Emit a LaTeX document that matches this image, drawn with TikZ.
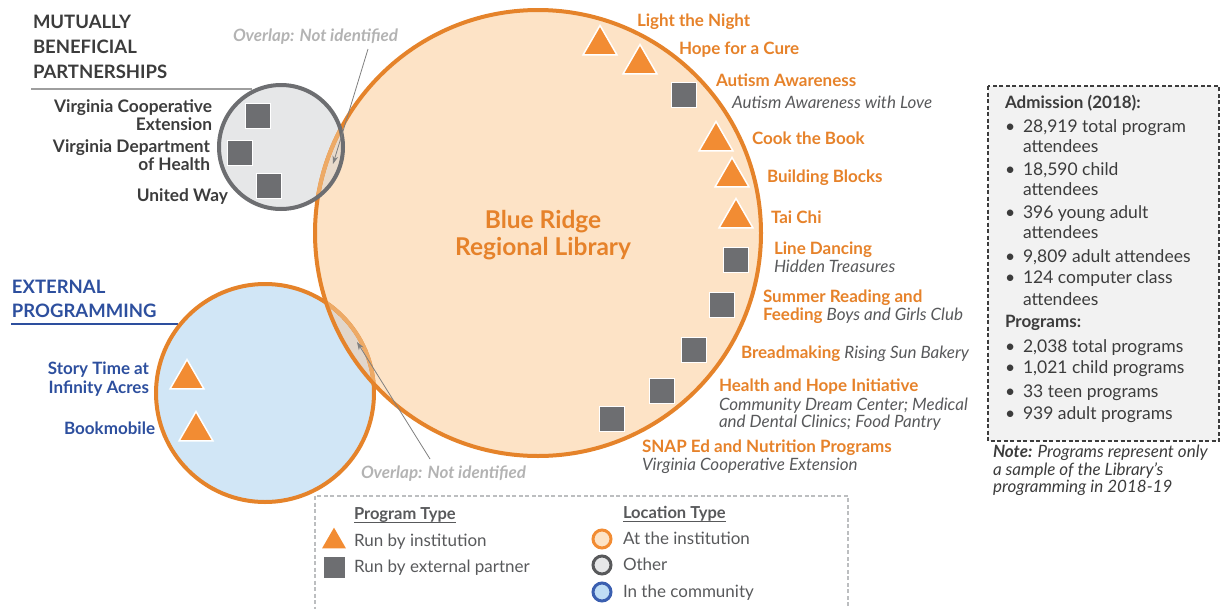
\documentclass[tikz,border=0pt]{standalone}
\usepackage{fontspec}
\setmainfont{Lato}
\usetikzlibrary{shapes.geometric,arrows.meta}
\definecolor{orgtxt}{HTML}{E6822A}
\definecolor{orgtri}{HTML}{F28C33}
\definecolor{orgline}{HTML}{E5832A}
\definecolor{lightorg}{HTML}{EDAA66}
\definecolor{peach}{HTML}{FDE3C6}
\definecolor{bluefill}{HTML}{D1E6F6}
\definecolor{greyfill}{HTML}{E6E7E8}
\definecolor{greyline}{HTML}{6D6E71}
\definecolor{sqfill}{HTML}{6D6E71}
\definecolor{ittxt}{HTML}{58595B}
\definecolor{darktxt}{HTML}{3C3C3C}
\definecolor{bluetxt}{HTML}{2D4F9E}
\definecolor{ovtxt}{HTML}{B3B3B3}
\definecolor{tanA}{HTML}{E8DACB}
\definecolor{tanB}{HTML}{E1D6CB}
\definecolor{statfill}{HTML}{F2F2F2}
\definecolor{legline}{HTML}{BCBEC0}
\definecolor{arrgrey}{HTML}{7F7F7F}
\definecolor{legblue}{HTML}{3A5FB0}
\definecolor{legbluefill}{HTML}{BFDDF5}
\begin{document}
\begin{tikzpicture}[x=1pt,y=-1pt,
  every node/.style={inner sep=0pt,outer sep=0pt},
  ttl/.style={font=\fontsize{18.5}{21}\selectfont\bfseries,anchor=base west},
  gl/.style={font=\fontsize{17.3}{19}\selectfont\bfseries,text=darktxt,anchor=base east},
  bl/.style={font=\fontsize{17}{19}\selectfont\bfseries,text=bluetxt,anchor=base east},
  ovl/.style={font=\fontsize{17}{19}\selectfont\bfseries\itshape,text=ovtxt,anchor=base west},
  pl/.style={font=\fontsize{17}{19}\selectfont\bfseries,text=orgtxt,anchor=base west},
  ps/.style={font=\fontsize{17}{19}\selectfont\itshape,text=ittxt,anchor=base west},
  st/.style={font=\fontsize{17.5}{19}\selectfont,text=darktxt,anchor=base west},
  lg/.style={font=\fontsize{17}{19}\selectfont,text=ittxt,anchor=base west},
  tri/.style={regular polygon,regular polygon sides=3,minimum size=39pt,fill=orgtri,draw=white,line width=1.5pt},
  sq/.style={rectangle,minimum size=25pt,fill=sqfill,draw=white,line width=1.5pt},
  arr/.style={draw=arrgrey,line width=0.8pt,-{Stealth[length=8pt,width=5.5pt]}},
  rule/.style={line width=1.5pt}
]
\useasboundingbox (0,0) rectangle (1220,608);
\coordinate (cB) at (538,233);
\coordinate (cG) at (281,147);
\coordinate (cE) at (265,393);

% section rules
\coordinate (r1a) at (31,89);
\coordinate (r1b) at (252,89);
\draw[rule,draw=black!38] (r1a) -- (r1b);
\coordinate (r2a) at (11,324);
\coordinate (r2b) at (178,324);
\draw[rule,draw=bluetxt] (r2a) -- (r2b);

% circle fills
\fill[peach] (cB) circle[radius=223pt];
\fill[bluefill] (cE) circle[radius=109pt];
\fill[greyfill] (cG) circle[radius=62pt];
\begin{scope}
  \clip (cB) circle[radius=223pt];
  \fill[tanB] (cE) circle[radius=109pt];
  \fill[tanA] (cG) circle[radius=62pt];
\end{scope}
% circle borders
\draw[orgline,line width=4pt] (cE) circle[radius=109pt];
\draw[orgline,line width=4pt] (cB) circle[radius=223pt];
\begin{scope}
  \clip (cB) circle[radius=221pt];
  \draw[lightorg,line width=4pt] (cE) circle[radius=109pt];
\end{scope}
\begin{scope}
  \clip (cG) circle[radius=60pt];
  \draw[lightorg,line width=4pt] (cB) circle[radius=223pt];
\end{scope}
\draw[greyline,line width=4pt] (cG) circle[radius=62pt];

% titles
\node[ttl,text=darktxt] (t1) at (33,28.5) {MUTUALLY};
\node[ttl,text=darktxt] (t2) at (33,53.5) {BENEFICIAL};
\node[ttl,text=darktxt] (t3) at (33,78.5) {PARTNERSHIPS};
\node[ttl,text=bluetxt] (e1) at (12,293.5) {EXTERNAL};
\node[ttl,text=bluetxt] (e2) at (12,317) {PROGRAMMING};

% partnership circle
\node[sq] (g1) at (258,116) {};
\node[sq] (g2) at (240,153) {};
\node[sq] (g3) at (269,186) {};
\node[gl] (gl1) at (212,112) {Virginia Cooperative};
\node[gl] (gl2) at (212,130) {Extension};
\node[gl] (gl3) at (210,152) {Virginia Department};
\node[gl] (gl4) at (210,170) {of Health};
\node[gl] (gl5) at (228,201) {United Way};

% external circle
\node[tri] (x1) at (187,379) {};
\node[tri] (x2) at (196,431) {};
\node[bl] (xl1) at (149,374) {Story Time at};
\node[bl] (xl2) at (149,393) {Infinity Acres};
\node[bl] (xl3) at (155,434) {Bookmobile};

% overlap notes
\node[ovl] (ov1) at (233,41) {Overlap: Not identified};
\node[ovl] (ov2) at (361,478) {Overlap: Not identified};
\coordinate (a1s) at (368,49);
\coordinate (a1e) at (333,164);
\draw[arr] (a1s) -- (a1e);
\coordinate (a2s) at (430,459);
\coordinate (a2e) at (357,342);
\draw[arr] (a2s) -- (a2e);

% library title
\node[font=\fontsize{24.5}{27}\selectfont\bfseries,text=orgtxt,anchor=base] (lib1) at (543,228) {Blue Ridge};
\node[font=\fontsize{24.5}{27}\selectfont\bfseries,text=orgtxt,anchor=base] (lib2) at (543,255) {Regional Library};

% programs
\node[tri] (p1) at (600,45) {};
\node[tri] (p2) at (640,64) {};
\node[sq]  (p3) at (684,95) {};
\node[tri] (p4) at (716,141) {};
\node[tri] (p5) at (732,177) {};
\node[tri] (p6) at (736,218) {};
\node[sq]  (p7) at (736,260) {};
\node[sq]  (p8) at (722,305) {};
\node[sq]  (p9) at (694,350) {};
\node[sq]  (p10) at (662,391) {};
\node[sq]  (p11) at (612,419) {};

\node[pl] (l1) at (637,26) {Light the Night};
\node[pl] (l2) at (679,54) {Hope for a Cure};
\node[pl] (l3) at (716,86) {Autism Awareness};
\node[ps] (l3b) at (732,108) {Autism Awareness with Love};
\node[pl] (l4) at (752,144) {Cook the Book};
\node[pl] (l5) at (767,182) {Building Blocks};
\node[pl] (l6) at (771,223) {Tai Chi};
\node[pl] (l7) at (774,254) {Line Dancing};
\node[ps] (l7b) at (774,272) {Hidden Treasures};
\node[pl] (l8) at (763,302.5) {Summer Reading and};
\node[pl] (l8b) at (763,320.5) {Feeding {\mdseries\itshape\color{ittxt}\fontsize{17}{19}\selectfont Boys and Girls Club}};
\node[pl] (l9) at (741,358) {Breadmaking {\mdseries\itshape\color{ittxt}\fontsize{17}{19}\selectfont Rising Sun Bakery}};
\node[pl] (l10) at (719,391) {Health and Hope Initiative};
\node[ps] (l10b) at (719,410) {Community Dream Center; Medical};
\node[ps] (l10c) at (719,427.5) {and Dental Clinics; Food Pantry};
\node[pl] (l11) at (642,452) {SNAP Ed and Nutrition Programs};
\node[ps] (l11b) at (642,470) {Virginia Cooperative Extension};

% stats box
\draw[fill=statfill,draw=darktxt,line width=1.2pt,dash pattern=on 4pt off 2.5pt] (988,86) rectangle (1219,441);
\node[st,font=\fontsize{17}{19}\selectfont\bfseries] (s0) at (1005,108) {Admission (2018):};
\node[st] (s1) at (1005,132) {\makebox[18pt][l]{•}28,919 total program};
\node[st] (s1b) at (1023,152) {attendees};
\node[st] (s2) at (1005,175) {\makebox[18pt][l]{•}18,590 child};
\node[st] (s2b) at (1023,195) {attendees};
\node[st] (s3) at (1005,218) {\makebox[18pt][l]{•}396 young adult};
\node[st] (s3b) at (1023,238) {attendees};
\node[st] (s4) at (1005,262) {\makebox[18pt][l]{•}9,809 adult attendees};
\node[st] (s5) at (1005,283) {\makebox[18pt][l]{•}124 computer class};
\node[st] (s5b) at (1023,305) {attendees};
\node[st,font=\fontsize{17}{19}\selectfont\bfseries] (s6) at (1005,327) {Programs:};
\node[st] (s7) at (1005,352) {\makebox[18pt][l]{•}2,038 total programs};
\node[st] (s8) at (1005,373) {\makebox[18pt][l]{•}1,021 child programs};
\node[st] (s9) at (1005,397) {\makebox[18pt][l]{•}33 teen programs};
\node[st] (s10) at (1005,419) {\makebox[18pt][l]{•}939 adult programs};
\node[st,font=\fontsize{17}{19}\selectfont\itshape] (n1) at (993,457) {\textbf{Note:} Programs represent only};
\node[st,font=\fontsize{17}{19}\selectfont\itshape] (n2) at (993,475) {a sample of the Library's};
\node[st,font=\fontsize{17}{19}\selectfont\itshape] (n3) at (993,492) {programming in 2018-19};

% legend
\draw[draw=legline,line width=1.2pt,dash pattern=on 4pt off 2.5pt] (315,496) rectangle (848,616);
\node[lg,font=\fontsize{16.5}{18}\selectfont\bfseries] (h1) at (354,519) {Program Type};
\draw[ittxt,line width=1pt] ([yshift=-3pt]h1.base west) -- ([yshift=-3pt]h1.base east);
\node[lg,font=\fontsize{16.5}{18}\selectfont\bfseries] (h2) at (623,518) {Location Type};
\draw[ittxt,line width=1pt] ([yshift=-3pt]h2.base west) -- ([yshift=-3pt]h2.base east);
\node[regular polygon,regular polygon sides=3,minimum size=27.7pt,fill=orgtri] (k1) at (334,541.5) {};
\node[rectangle,minimum size=21pt,fill=sqfill] (k2) at (334.5,567) {};
\node[lg] (k1t) at (354,546) {Run by institution};
\node[lg] (k2t) at (354,572) {Run by external partner};
\node[circle,minimum size=18pt,fill=peach,draw=orgtri,line width=3pt] (c1) at (602,539) {};
\node[circle,minimum size=18pt,fill=greyfill,draw=ittxt,line width=3pt] (c2) at (602,565) {};
\node[circle,minimum size=18pt,fill=legbluefill,draw=legblue,line width=3pt] (c3) at (602,592) {};
\node[lg] (c1t) at (623,544) {At the institution};
\node[lg] (c2t) at (623,570) {Other};
\node[lg] (c3t) at (623,597) {In the community};
\end{tikzpicture}
\end{document}
